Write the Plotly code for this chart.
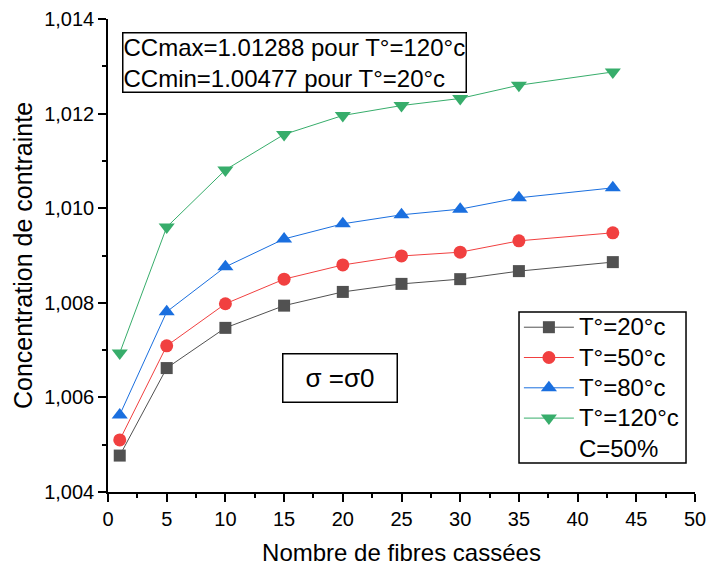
import plotly.graph_objects as go

# Number of broken fibres
fibres = [1, 5, 10, 15, 20, 25, 30, 35, 43]

# Stress concentration for each temperature
cc_20 = [1.00477, 1.00662, 1.00747, 1.00794, 1.00823, 1.00840, 1.00850, 1.00867, 1.00886]
cc_50 = [1.00510, 1.00709, 1.00798, 1.00850, 1.00880, 1.00899, 1.00907, 1.00931, 1.00948]
cc_80 = [1.00563, 1.00781, 1.00876, 1.00935, 1.00967, 1.00986, 1.00998, 1.01022, 1.01043]
cc_120 = [1.00694, 1.00960, 1.01081, 1.01156, 1.01196, 1.01217, 1.01232, 1.01260, 1.01288]

series = [
    ("T°=20°c", cc_20, "#515151", "square", 12),
    ("T°=50°c", cc_50, "#F14040", "circle", 13),
    ("T°=80°c", cc_80, "#1A6FDF", "triangle-up", 14),
    ("T°=120°c", cc_120, "#37AD6B", "triangle-down", 14),
]

FONT = "Liberation Sans, Arial, sans-serif"


def legend_label(text):
    # larger glyphs than the legend row spacing would normally allow
    return f"<span style='font-size:24px'>{text}</span>"


fig = go.Figure()
for name, vals, color, symbol, size in series:
    fig.add_trace(go.Scatter(
        x=fibres, y=vals, name=legend_label(name), mode="lines+markers",
        line=dict(color=color, width=1),
        marker=dict(symbol=symbol, size=size, color=color, line=dict(width=0)),
    ))

# extra legend row carrying the fibre fraction
fig.add_trace(go.Scatter(
    x=[None], y=[None], name=legend_label("C=50%"), mode="lines",
    line=dict(color="rgba(0,0,0,0)", width=1),
))

axis_common = dict(
    showline=True, linecolor="black", linewidth=1.5,
    ticks="outside", ticklen=8, tickwidth=1.5, tickcolor="black",
    showgrid=False, zeroline=False, mirror=False, automargin=False,
    tickfont=dict(family=FONT, size=20, color="black"),
)

fig.update_xaxes(
    range=[0, 50], tickmode="linear", tick0=0, dtick=5,
    minor=dict(ticks="outside", ticklen=4, tickwidth=1.5, tickcolor="black", dtick=2.5),
    title=dict(text="Nombre de fibres cassées", font=dict(family=FONT, size=24, color="black"), standoff=15),
    **axis_common,
)
fig.update_yaxes(
    range=[1.004, 1.014], tickmode="linear", tick0=1.004, dtick=0.002, tickformat=".3f",
    minor=dict(ticks="outside", ticklen=4, tickwidth=1.5, tickcolor="black", dtick=0.001),
    title=dict(text="Concentration de contrainte", font=dict(family=FONT, size=25, color="black"), standoff=4),
    **axis_common,
)

fig.add_annotation(
    xref="paper", yref="paper", x=0.024, y=0.972, xanchor="left", yanchor="top",
    text="CCmax=1.01288 pour T°=120°c<br>CCmin=1.00477 pour T°=20°c",
    align="left", showarrow=False,
    font=dict(family=FONT, size=24, color="black"),
    bordercolor="black", borderwidth=1.5, borderpad=0, bgcolor="white",
)
fig.add_annotation(
    xref="paper", yref="paper", x=0.395, y=0.240, xanchor="center", yanchor="middle",
    text="σ =σ0", showarrow=False, width=113, height=47,
    font=dict(family=FONT, size=26, color="black"),
    bordercolor="black", borderwidth=1.5, borderpad=0, bgcolor="white",
)

# frame around the legend
fig.add_shape(
    type="rect", xref="paper", yref="paper",
    x0=0.7002, x1=0.9847, y0=0.0613, y1=0.3805,
    line=dict(color="black", width=1.5), fillcolor="white", layer="below",
)

fig.update_layout(
    width=710, height=569,
    margin=dict(l=108, r=15, t=19, b=77, autoexpand=False),
    paper_bgcolor="white", plot_bgcolor="white",
    separators=", ",
    showlegend=True,
    legend=dict(
        x=0.700, y=0.391, xanchor="left", yanchor="top",
        borderwidth=0, bgcolor="rgba(0,0,0,0)",
        font=dict(family=FONT, size=21, color="black"),
        itemwidth=50, tracegroupgap=0,
    ),
)

fig.write_html("out.html")
